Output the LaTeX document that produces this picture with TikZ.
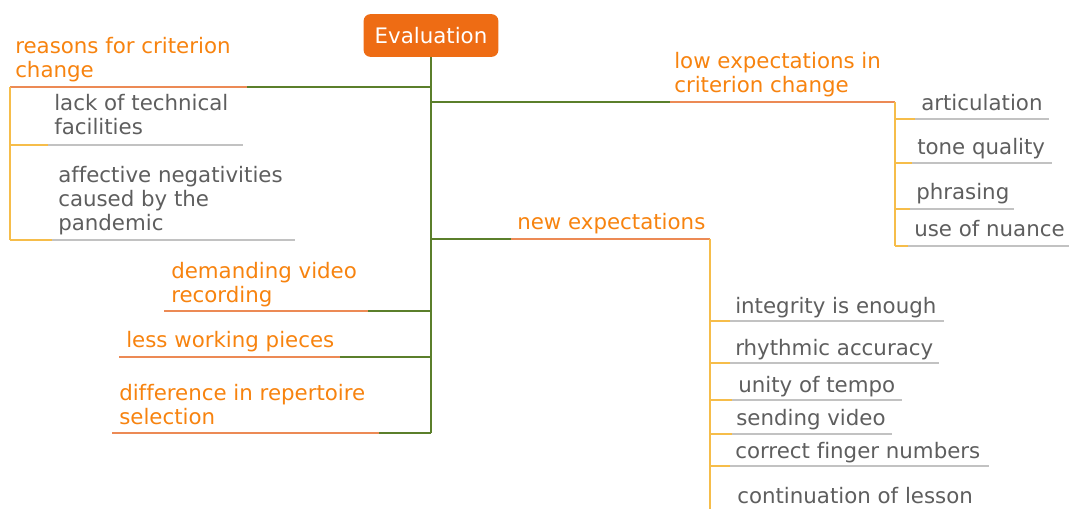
\documentclass[tikz,border=0pt]{standalone}
\usepackage{fontspec}
\setmainfont{DejaVu Sans}[Ligatures=NoCommon]
\usepackage{tikz}
\usetikzlibrary{positioning,calc}
\definecolor{evalorange}{HTML}{EE6C14}
\definecolor{topicorange}{HTML}{F7830F}
\definecolor{branchgreen}{HTML}{5B7F2B}
\definecolor{underorange}{HTML}{EC8A55}
\definecolor{subyellow}{HTML}{F6BD4A}
\definecolor{subgray}{HTML}{5E5E5E}
\definecolor{linegray}{HTML}{C2C2C2}
\tikzset{
  root/.style=
  {
    fill=evalorange,
    rounded corners=5pt,
    text=white,
    minimum width=101pt,
    minimum height=32pt,
    inner sep=0pt
  },
  topic/.style=
  {
    anchor=base west,
    align=left,
    text=topicorange,
    inner sep=0pt
  },
  subtopic/.style=
  {
    anchor=base west,
    align=left,
    text=subgray,
    inner sep=0pt
  },
  trunk/.style=
  {
    draw=branchgreen,
    line width=1.6pt
  },
  underline/.style=
  {
    draw=underorange,
    line width=1.2pt
  },
  tick/.style=
  {
    draw=subyellow,
    line width=1.4pt
  },
  grayline/.style=
  {
    draw=linegray,
    line width=1.1pt
  }
 }
\begin{document}
\begin{tikzpicture}[x=0.75pt, y=-0.75pt, font=\fontsize{16pt}{18pt}\selectfont]
  \clip (0,0) rectangle (1069,509);
  % root and main topics (base = last line)
  \node[root] (eval) at (431,35.5) {Evaluation};
  \node[topic] (reasons) at (15,78) {reasons for criterion\\change};
  \node[topic] (lowexp) at (674,93) {low expectations in\\criterion change};
  \node[topic] (newexp) at (517,230) {new expectations};
  \node[topic] (demand) at (171,302) {demanding video\\recording};
  \node[topic] (less) at (126,347) {less working pieces};
  \node[topic] (differ) at (119,424) {difference in repertoire\\selection};
  % sub topics
  \node[subtopic] (lack) at (54,135) {lack of technical\\facilities};
  \node[subtopic] (affect) at (58,231) {affective negativities\\caused by the\\pandemic};
  \node[subtopic] (artic) at (921,111) {articulation};
  \node[subtopic] (tone) at (917,155) {tone quality};
  \node[subtopic] (phras) at (916,200) {phrasing};
  \node[subtopic] (nuance) at (914,237) {use of nuance};
  \node[subtopic] (integ) at (735,313) {integrity is enough};
  \node[subtopic] (rhythm) at (735,355) {rhythmic accuracy};
  \node[subtopic] (unity) at (738,392) {unity of tempo};
  \node[subtopic] (sending) at (736,425) {sending video};
  \node[subtopic] (finger) at (735,458) {correct finger numbers};
  \node[subtopic] (contin) at (737,503) {continuation of lesson};
  % line ends
  \coordinate (reasons-a) at (247,87);  \coordinate (reasons-b) at (10,87);
  \coordinate (lowexp-a) at (670,102);  \coordinate (lowexp-b) at (895,102);
  \coordinate (newexp-a) at (511,239);  \coordinate (newexp-b) at (710,239);
  \coordinate (demand-a) at (368,311);  \coordinate (demand-b) at (164,311);
  \coordinate (less-a) at (340,357);    \coordinate (less-b) at (119,357);
  \coordinate (differ-a) at (379,433);  \coordinate (differ-b) at (112,433);
  \coordinate (lack-t) at (48,145);     \coordinate (lack-e) at (243,145);
  \coordinate (affect-t) at (52,240);   \coordinate (affect-e) at (295,240);
  \coordinate (artic-t) at (915,119);   \coordinate (artic-e) at (1049,119);
  \coordinate (tone-t) at (912,163);    \coordinate (tone-e) at (1052,163);
  \coordinate (phras-t) at (910,209);   \coordinate (phras-e) at (1014,209);
  \coordinate (nuance-t) at (908,246);  \coordinate (nuance-e) at (1069,246);
  \coordinate (integ-t) at (730,321);   \coordinate (integ-e) at (944,321);
  \coordinate (rhythm-t) at (730,363);  \coordinate (rhythm-e) at (939,363);
  \coordinate (unity-t) at (732,400);   \coordinate (unity-e) at (902,400);
  \coordinate (sending-t) at (732,434); \coordinate (sending-e) at (892,434);
  \coordinate (finger-t) at (730,466);  \coordinate (finger-e) at (989,466);
  \coordinate (newexp-end) at (710,512);
  % trunk
  \draw[trunk] (eval.south) -- (eval.south |- differ-a);
  \draw[trunk] (eval.south |- reasons-a) -- (reasons-a);
  \draw[trunk] (eval.south |- lowexp-a) -- (lowexp-a);
  \draw[trunk] (eval.south |- newexp-a) -- (newexp-a);
  \draw[trunk] (eval.south |- demand-a) -- (demand-a);
  \draw[trunk] (eval.south |- less-a) -- (less-a);
  \draw[trunk] (eval.south |- differ-a) -- (differ-a);
  \draw[underline] (reasons-a) -- (reasons-b);
  \draw[underline] (lowexp-a) -- (lowexp-b);
  \draw[underline] (newexp-a) -- (newexp-b);
  \draw[underline] (demand-a) -- (demand-b);
  \draw[underline] (less-a) -- (less-b);
  \draw[underline] (differ-a) -- (differ-b);
  % reasons branch
  \draw[tick] (reasons-b) -- (reasons-b |- affect-t);
  \draw[tick] (reasons-b |- lack-t) -- (lack-t);
  \draw[tick] (reasons-b |- affect-t) -- (affect-t);
  \draw[grayline] (lack-t) -- (lack-e);
  \draw[grayline] (affect-t) -- (affect-e);
  % low expectations branch
  \draw[tick] (lowexp-b) -- (lowexp-b |- nuance-t);
  \draw[tick] (lowexp-b |- artic-t) -- (artic-t);
  \draw[tick] (lowexp-b |- tone-t) -- (tone-t);
  \draw[tick] (lowexp-b |- phras-t) -- (phras-t);
  \draw[tick] (lowexp-b |- nuance-t) -- (nuance-t);
  \draw[grayline] (artic-t) -- (artic-e);
  \draw[grayline] (tone-t) -- (tone-e);
  \draw[grayline] (phras-t) -- (phras-e);
  \draw[grayline] (nuance-t) -- (nuance-e);
  % new expectations branch
  \draw[tick] (newexp-b) -- (newexp-end);
  \draw[tick] (newexp-b |- integ-t) -- (integ-t);
  \draw[tick] (newexp-b |- rhythm-t) -- (rhythm-t);
  \draw[tick] (newexp-b |- unity-t) -- (unity-t);
  \draw[tick] (newexp-b |- sending-t) -- (sending-t);
  \draw[tick] (newexp-b |- finger-t) -- (finger-t);
  \draw[grayline] (integ-t) -- (integ-e);
  \draw[grayline] (rhythm-t) -- (rhythm-e);
  \draw[grayline] (unity-t) -- (unity-e);
  \draw[grayline] (sending-t) -- (sending-e);
  \draw[grayline] (finger-t) -- (finger-e);
\end{tikzpicture}
\end{document}
